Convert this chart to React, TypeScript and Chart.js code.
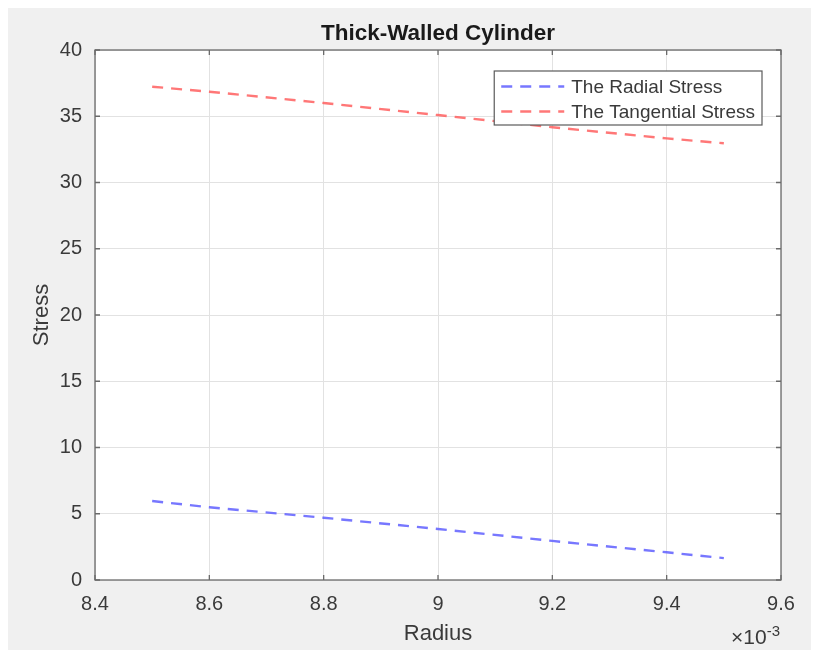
import React, { useEffect, useRef } from "react";
import { Chart, registerables } from "chart.js";

Chart.register(...registerables);

const radius = [0.0085, 0.0086, 0.0088, 0.009, 0.0092, 0.0094, 0.0095];
const radialStress = [5.96, 5.49, 4.7, 3.85, 2.95, 2.09, 1.65];
const tangentialStress = [37.23, 36.85, 36.0, 35.09, 34.17, 33.33, 32.96];
const seriesLabels = ["The Radial Stress", "The Tangential Stress"];
const chartTitle = "Thick-Walled Cylinder";
const xTitle = "Radius";
const yTitle = "Stress";

const FONT = "'Liberation Sans', Arial, Helvetica, sans-serif";
const TEXT = "#3a3a3a";
const AXIS = "#6a6a6a";

const titlePlugin = {
  id: "centeredTitle",
  afterDraw(chart: any) {
    const { ctx, chartArea } = chart;
    ctx.save();
    ctx.fillStyle = "#1a1a1a";
    ctx.font = `bold 22.5px ${FONT}`;
    ctx.textAlign = "center";
    ctx.textBaseline = "middle";
    ctx.fillText(chartTitle, (chartArea.left + chartArea.right) / 2, chartArea.top - 16.5);
    ctx.restore();
  },
};

const boxPlugin = {
  id: "matlabBox",
  beforeDatasetsDraw(chart: any) {
    const { ctx, chartArea } = chart;
    const { left, right, top, bottom } = chartArea;
    ctx.save();
    ctx.strokeStyle = AXIS;
    ctx.lineWidth = 1.3;
    ctx.strokeRect(left, top, right - left, bottom - top);
    const tl = 5;
    const xs = chart.scales.x;
    xs.ticks.forEach((t: any) => {
      const px = xs.getPixelForValue(t.value);
      ctx.beginPath();
      ctx.moveTo(px, bottom);
      ctx.lineTo(px, bottom - tl);
      ctx.moveTo(px, top);
      ctx.lineTo(px, top + tl);
      ctx.stroke();
    });
    const ys = chart.scales.y;
    ys.ticks.forEach((t: any) => {
      const py = ys.getPixelForValue(t.value);
      ctx.beginPath();
      ctx.moveTo(left, py);
      ctx.lineTo(left + tl, py);
      ctx.moveTo(right, py);
      ctx.lineTo(right - tl, py);
      ctx.stroke();
    });
    ctx.restore();
  },
};

const bgPlugin = {
  id: "plotBg",
  beforeDraw(chart: any) {
    const { ctx, chartArea } = chart;
    ctx.save();
    ctx.fillStyle = "#ffffff";
    ctx.fillRect(chartArea.left, chartArea.top, chartArea.right - chartArea.left, chartArea.bottom - chartArea.top);
    ctx.restore();
  },
};

const legendPlugin = {
  id: "insideLegend",
  afterDatasetsDraw(chart: any) {
    const { ctx, chartArea } = chart;
    ctx.save();
    ctx.font = `19px ${FONT}`;
    const widths = chart.data.datasets.map((d: any) => ctx.measureText(d.label).width);
    const textW = Math.max(...widths);
    const sampleL = 63;
    const w = 7 + sampleL + 7 + textW + 7;
    const h = 54;
    const x0 = chartArea.right - 19 - w;
    const y0 = chartArea.top + 21;
    ctx.fillStyle = "#ffffff";
    ctx.fillRect(x0, y0, w, h);
    ctx.strokeStyle = "#5a5a5a";
    ctx.lineWidth = 1.2;
    ctx.strokeRect(x0, y0, w, h);
    chart.data.datasets.forEach((d: any, i: number) => {
      const cy = y0 + 15.5 + i * 25;
      ctx.strokeStyle = d.borderColor;
      ctx.lineWidth = d.borderWidth;
      ctx.setLineDash(d.borderDash);
      ctx.beginPath();
      ctx.moveTo(x0 + 7, cy);
      ctx.lineTo(x0 + 7 + sampleL, cy);
      ctx.stroke();
      ctx.setLineDash([]);
      ctx.fillStyle = TEXT;
      ctx.textBaseline = "middle";
      ctx.textAlign = "left";
      ctx.fillText(d.label, x0 + 7 + sampleL + 7, cy + 1);
    });
    ctx.restore();
  },
};

const exponentPlugin = {
  id: "xExponent",
  afterDraw(chart: any) {
    const { ctx, chartArea } = chart;
    ctx.save();
    ctx.fillStyle = TEXT;
    ctx.textBaseline = "alphabetic";
    ctx.textAlign = "left";
    ctx.font = `21px ${FONT}`;
    const base = "\u00d710";
    const bw = ctx.measureText(base).width;
    const xEnd = chartArea.right - 1;
    ctx.font = `15px ${FONT}`;
    const ew = ctx.measureText("-3").width;
    const x = xEnd - ew - bw;
    ctx.font = `21px ${FONT}`;
    ctx.fillText(base, x, 636);
    ctx.font = `15px ${FONT}`;
    ctx.fillText("-3", x + bw, 628);
    ctx.restore();
  },
};

export default function App() {
  const ref = useRef<HTMLCanvasElement | null>(null);
  useEffect(() => {
    if (!ref.current) return;
    const chart = new Chart(ref.current, {
      type: "line",
      data: {
        labels: radius,
        datasets: [
          {
            label: seriesLabels[0],
            data: radius.map((r, i) => ({ x: r, y: radialStress[i] })),
            borderColor: "rgba(95,95,255,0.85)",
            borderWidth: 2.4,
            borderDash: [11, 8],
            pointRadius: 0,
            fill: false,
            tension: 0,
          },
          {
            label: seriesLabels[1],
            data: radius.map((r, i) => ({ x: r, y: tangentialStress[i] })),
            borderColor: "rgba(255,95,95,0.85)",
            borderWidth: 2.4,
            borderDash: [11, 8],
            pointRadius: 0,
            fill: false,
            tension: 0,
          },
        ],
      },
      options: {
        animation: false,
        responsive: false,
        maintainAspectRatio: false,
        layout: { padding: { left: 0, right: 38, top: 42, bottom: 0 } },
        plugins: {
          legend: { display: false },
          tooltip: { enabled: false },
          title: { display: false },
        },
        scales: {
          x: {
            type: "linear",
            min: 0.0084,
            max: 0.0096,
            afterFit(scale: any) {
              scale.height = 70;
            },
            ticks: {
              stepSize: 0.0002,
              color: TEXT,
              font: { family: FONT, size: 20 },
              padding: 12,
              maxRotation: 0,
              callback: (v: any) => String(Math.round(Number(v) * 10000) / 10),
            },
            grid: { color: "#e2e2e2", lineWidth: 1, drawTicks: false },
            border: { display: false },
            title: {
              display: true,
              text: xTitle,
              color: TEXT,
              font: { family: FONT, size: 22 },
              padding: { top: 0, bottom: 3 },
            },
          },
          y: {
            type: "linear",
            min: 0,
            max: 40,
            afterFit(scale: any) {
              scale.width = 87;
            },
            ticks: {
              stepSize: 5,
              color: TEXT,
              font: { family: FONT, size: 20 },
              padding: 13,
            },
            grid: { color: "#e2e2e2", lineWidth: 1, drawTicks: false },
            border: { display: false },
            title: {
              display: true,
              text: yTitle,
              color: TEXT,
              font: { family: FONT, size: 22 },
              padding: { top: 21, bottom: 0 },
            },
          },
        },
      },
      plugins: [bgPlugin, boxPlugin, legendPlugin, exponentPlugin, titlePlugin],
    } as any);
    return () => chart.destroy();
  }, []);
  return (
    <div style={{ width: 811, height: 642, background: "#f0f0f0" }}>
      <canvas ref={ref} width={811} height={642} style={{ display: "block" }} />
    </div>
  );
}
